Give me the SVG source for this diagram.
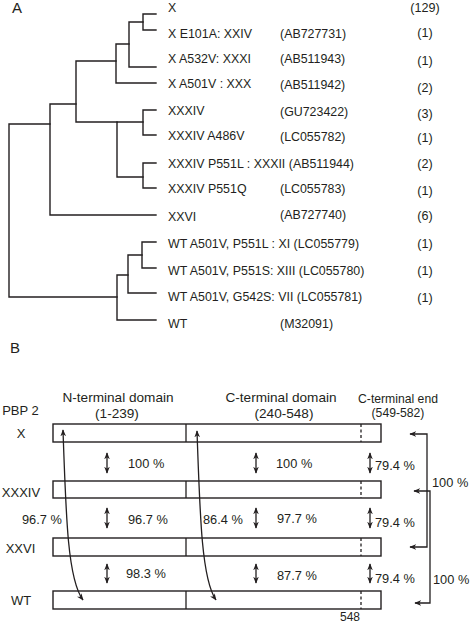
<svg xmlns="http://www.w3.org/2000/svg" width="472" height="628" viewBox="0 0 472 628">
<defs>
<style>
.t{font-family:"Liberation Sans",Arial,sans-serif;fill:#231f20}
.lf{font-size:12.4px}
.ct{font-size:12.6px;text-anchor:middle}
.hd{font-size:13.6px;text-anchor:middle}
.rl{font-size:13px;text-anchor:middle}
.pc{font-size:12.8px}
.pl{font-size:15px}
.tree{stroke:#231f20;stroke-width:1.4;fill:none;stroke-linecap:square}
.box{fill:#fff;stroke:#231f20;stroke-width:1.4}
.ln{stroke:#231f20;stroke-width:1.3;fill:none}
.dash{stroke:#231f20;stroke-width:1.3;stroke-dasharray:3,2.5}
.arr{stroke:#231f20;stroke-width:1.3;fill:none;marker-start:url(#ah);marker-end:url(#ah)}
</style>
<marker id="ah" viewBox="0 0 10 10" refX="9" refY="5" markerWidth="7" markerHeight="7" markerUnits="userSpaceOnUse" orient="auto-start-reverse">
<path d="M0,1 L10,5 L0,9 L3,5 z" fill="#231f20"/>
</marker>
</defs>
<rect width="472" height="628" fill="#fff"/>

<text class="t pl" x="12" y="13">A</text>
<text class="t pl" x="10" y="353">B</text>

<g id="tree" class="tree">
<path d="M143,14 H156 M143,30 H156 M143,14 V30"/>
<path d="M129,22 H143 M129,22 V67 M129,67 H156"/>
<path d="M116,44 H129 M116,44 V83 M116,83 H156"/>
<path d="M143,110 H156 M143,135 H156 M143,110 V135"/>
<path d="M143,163 H156 M143,188 H156 M143,163 V188"/>
<path d="M117,122 H143 M117,177 H143 M117,122 V177"/>
<path d="M76,61 H116 M76,122 H117 M76,61 V122"/>
<path d="M50,104 H76 M50,104 V215 M50,215 H156"/>
<path d="M142,242 H156 M142,268 H156 M142,242 V268"/>
<path d="M128,255 H142 M128,255 V293 M128,293 H156"/>
<path d="M117,275 H128 M117,275 V320 M117,320 H156"/>
<path d="M9,124 H50 M9,124 V297 M9,297 H117"/>
</g>

<g id="leaves">
<text class="t lf" x="168" y="11.7">X</text>
<text class="t lf" x="168" y="37.8">X E101A: XXIV</text>
<text class="t lf" x="168" y="62.8">X A532V: XXXI</text>
<text class="t lf" x="168" y="87.5">X A501V : XXX</text>
<text class="t lf" x="168" y="114.5">XXXIV</text>
<text class="t lf" x="168" y="139.5">XXXIV A486V</text>
<text class="t lf" x="168" y="167.5">XXXIV P551L : XXXII (AB511944)</text>
<text class="t lf" x="168" y="192.5">XXXIV P551Q</text>
<text class="t lf" x="168" y="221">XXVI</text>
<text class="t lf" x="168" y="247.5">WT A501V, P551L : XI (LC055779)</text>
<text class="t lf" x="168" y="274.5">WT A501V, P551S: XIII (LC055780)</text>
<text class="t lf" x="168" y="301">WT A501V, G542S: VII (LC055781)</text>
<text class="t lf" x="168" y="327.5">WT</text>
<text class="t lf" x="280" y="37.8">(AB727731)</text>
<text class="t lf" x="280" y="62.8">(AB511943)</text>
<text class="t lf" x="280" y="88.5">(AB511942)</text>
<text class="t lf" x="280" y="115.5">(GU723422)</text>
<text class="t lf" x="280" y="140.5">(LC055782)</text>
<text class="t lf" x="280" y="192.5">(LC055783)</text>
<text class="t lf" x="280" y="219">(AB727740)</text>
<text class="t lf" x="280" y="327.5">(M32091)</text>
<text class="t ct" x="425" y="11.5">(129)</text>
<text class="t ct" x="425" y="36.5">(1)</text>
<text class="t ct" x="425" y="64.5">(1)</text>
<text class="t ct" x="425" y="91.5">(2)</text>
<text class="t ct" x="425" y="117.5">(3)</text>
<text class="t ct" x="425" y="141.5">(1)</text>
<text class="t ct" x="425" y="167.5">(2)</text>
<text class="t ct" x="425" y="194.5">(1)</text>
<text class="t ct" x="425" y="220">(6)</text>
<text class="t ct" x="425" y="247.5">(1)</text>
<text class="t ct" x="425" y="274.5">(1)</text>
<text class="t ct" x="425" y="301.5">(1)</text>
</g>

<g id="headers">
<text class="t rl" x="20.5" y="415">PBP 2</text>
<text class="t hd" x="118" y="402">N-terminal domain</text>
<text class="t hd" x="117" y="417.5">(1-239)</text>
<text class="t hd" x="281" y="402">C-terminal domain</text>
<text class="t hd" x="284" y="417.5">(240-548)</text>
<text class="t hd" x="398" y="403" style="font-size:12.2px">C-terminal end</text>
<text class="t hd" x="398" y="416.5" style="font-size:12.2px">(549-582)</text>
</g>

<g id="row-X">
<rect class="box" x="53" y="424" width="328" height="18"/>
<line class="ln" x1="186" y1="424" x2="186" y2="442"/>
<line class="dash" x1="361" y1="424" x2="361" y2="442"/>
<text class="t rl" x="21" y="438">X</text>
</g>
<g id="row-XXXIV">
<rect class="box" x="53" y="481" width="328" height="17"/>
<line class="ln" x1="186" y1="481" x2="186" y2="498"/>
<line class="dash" x1="361" y1="481" x2="361" y2="498"/>
<text class="t rl" x="21" y="496.5">XXXIV</text>
</g>
<g id="row-XXVI">
<rect class="box" x="53" y="538" width="328" height="18"/>
<line class="ln" x1="186" y1="538" x2="186" y2="556"/>
<line class="dash" x1="361" y1="538" x2="361" y2="556"/>
<text class="t rl" x="20.5" y="552.5">XXVI</text>
</g>
<g id="row-WT">
<rect class="box" x="53" y="591" width="328" height="18"/>
<line class="ln" x1="186" y1="591" x2="186" y2="609"/>
<line class="dash" x1="361" y1="591" x2="361" y2="609"/>
<text class="t rl" x="21" y="604.5">WT</text>
<text class="t" x="350" y="621" style="font-size:12px;text-anchor:middle">548</text>
</g>

<g id="connectors">
<line class="arr" x1="107" y1="453" x2="107" y2="473"/>
<line class="arr" x1="256" y1="453" x2="256" y2="473"/>
<line class="arr" x1="370" y1="453" x2="370" y2="473"/>
<line class="arr" x1="107" y1="508" x2="107" y2="528"/>
<line class="arr" x1="256" y1="508" x2="256" y2="528"/>
<line class="arr" x1="370" y1="508" x2="370" y2="528"/>
<line class="arr" x1="107" y1="564" x2="107" y2="583"/>
<line class="arr" x1="256" y1="564" x2="256" y2="583"/>
<line class="arr" x1="370" y1="564" x2="370" y2="583"/>
<path class="arr" d="M63,430 C66,520 68,580 83,600"/>
<path class="arr" d="M197,431 C200,520 202,580 216,600"/>
<path class="arr" d="M410,434 H427 V547 H410"/>
<path class="arr" d="M414,491 H430 V603 H415"/>
</g>

<g id="percent">
<text class="t pc" x="128" y="467.5">100 %</text>
<text class="t pc" x="276" y="467.5">100 %</text>
<text class="t pc" x="375" y="469.5">79.4 %</text>
<text class="t pc" x="22" y="523.5">96.7 %</text>
<text class="t pc" x="128" y="523.5">96.7 %</text>
<text class="t pc" x="203" y="523.5">86.4 %</text>
<text class="t pc" x="277" y="522.5">97.7 %</text>
<text class="t pc" x="375" y="527">79.4 %</text>
<text class="t pc" x="126" y="577.5">98.3 %</text>
<text class="t pc" x="277" y="579.5">87.7 %</text>
<text class="t pc" x="375" y="583">79.4 %</text>
<text class="t pc" x="432" y="486.5">100 %</text>
<text class="t pc" x="433" y="583.5">100 %</text>
</g>
</svg>
